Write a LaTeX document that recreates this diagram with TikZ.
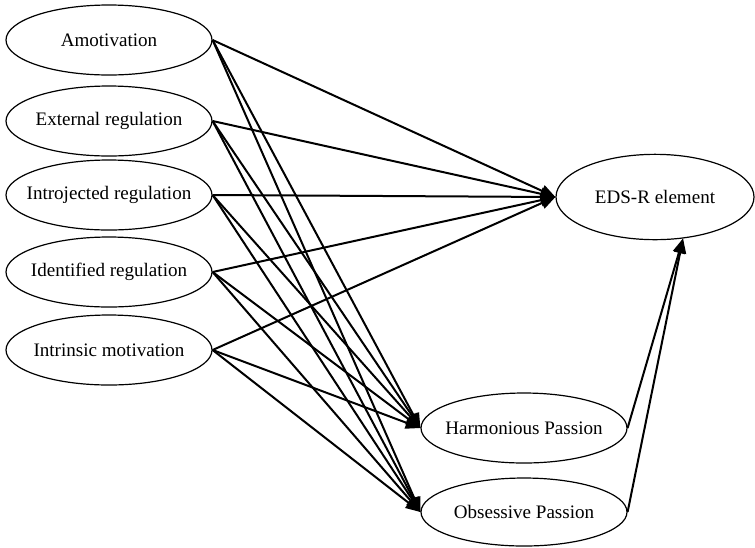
\documentclass[tikz,border=0pt]{standalone}
\usepackage{fontspec}
\setmainfont{Liberation Serif}
\usetikzlibrary{shapes.geometric,arrows.meta}

\begin{document}
\begin{tikzpicture}[x=0.75pt, y=-0.75pt, >={Triangle[length=11pt,width=9pt]},
  var/.style={ellipse, draw, line width=0.9pt, minimum width=154.5pt, minimum height=52.5pt,
    inner sep=0pt, font=\fontsize{14.3}{17}\selectfont,
    execute at begin node=\hbox to 0pt\bgroup\hss, execute at end node=\hss\egroup},
  link/.style={->, line width=1.5pt}]
  \useasboundingbox (0,0) rectangle (755,547);

  % motivation types
  \node[var] (amo) at (109,40) {Amotivation};
  \node[var] (ext) at (109,121) {External regulation};
  \node[var] (intro) at (109,195) {Introjected regulation};
  \node[var] (iden) at (109,272) {Identified regulation};
  \node[var] (intr) at (109,350) {Intrinsic motivation};

  % outcomes
  \node[var, minimum width=148.5pt, minimum height=64pt] (eds) at (655,197) {EDS-R element};
  \node[var] (hp) at (524,428) {Harmonious Passion};
  \node[var, minimum height=51pt] (op) at (524,512) {Obsessive Passion};

  \foreach \v in {amo,ext,intro,iden,intr}
    \foreach \o in {eds,hp,op}
      \draw[link] (\v.east) -- (\o.west);
  \draw[link] (hp.east) -- (eds.-56);
  \draw[link] (op.east) -- (eds.-56);
\end{tikzpicture}
\end{document}
